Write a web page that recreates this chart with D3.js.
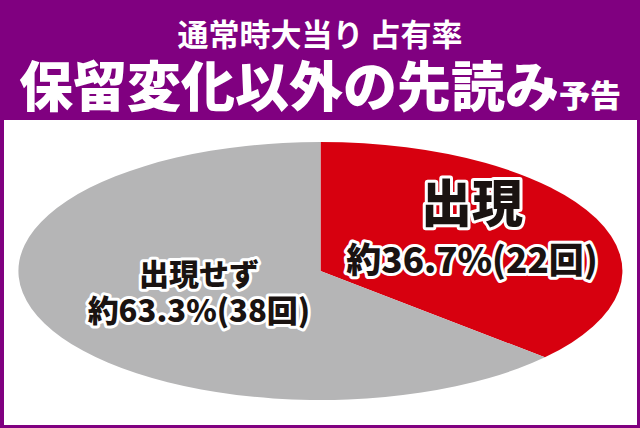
<!DOCTYPE html>
<html>
<head>
<meta charset="utf-8">
<script src="https://cdn.jsdelivr.net/npm/d3@7"></script>
<style>
    body { margin: 0; background: #800080; }
    svg { display: block; }
    text { font-family: "Noto Sans CJK JP", "Noto Sans", sans-serif; }
</style>
</head>
<body>
<script>
const categories = ["出現", "出現せず"];
const counts = [22, 38];
const percentLabels = ["約36.7%", "約63.3%"];
const countLabels = ["(22回)", "(38回)"];
const colors = ["#d7000f", "#b5b5b6"];

const largeur = 640,
    hauteur = 428;

const svgSpace = d3.select("body").append("svg")
    .attr("width", largeur)
    .attr("height", hauteur);

svgSpace.append("rect")
    .attr("width", largeur).attr("height", hauteur)
    .attr("fill", "#800080");

svgSpace.append("rect")
    .attr("x", 4).attr("y", 120)
    .attr("width", 633).attr("height", 305)
    .attr("fill", "white");

// titles
addText("通常時大当り\u2009占有率", largeur / 2, 46, "white", "31px", 700);

const title2 = svgSpace.append("text")
    .attr("x", largeur / 2)
    .attr("y", 107)
    .attr("fill", "white")
    .style("text-anchor", "middle")
    .style("font-weight", 900);
title2.append("tspan").text("保留変化以外の先読み").style("font-size", "54px");
title2.append("tspan").text("予告").style("font-size", "31px");

// pie squashed into an ellipse
const cx = 320.5, cy = 271, rx = 302, ry = 129;

const pie = d3.pie().sort(null).value((d) => d);
const arcs = pie(counts);
const arc = d3.arc().innerRadius(0).outerRadius(1);

const pieG = svgSpace.append("g")
    .attr("transform", `translate(${cx},${cy}) scale(${rx},${ry})`);

pieG.selectAll("path")
    .data(arcs)
    .enter()
    .append("path")
    .attr("d", arc)
    .attr("fill", (d, i) => colors[i]);

// labels
const labelArc = d3.arc().innerRadius(0.6).outerRadius(0.6);
const nudge = [[-14, -8], [44, -12]];
const bigSize = [51, 30];
const smallSize = [35, 31];
const lineOffset = [[-10, 41], [-5, 32]];

arcs.forEach((d, i) => {
    const c = labelArc.centroid(d);
    const x = cx + c[0] * rx + nudge[i][0];
    const y = cy + c[1] * ry + nudge[i][1];

    outlined(categories[i], x, y + lineOffset[i][0], bigSize[i]);
    outlined(percentLabels[i] + countLabels[i], x, y + lineOffset[i][1], smallSize[i]);
});

function outlined(txt, x, y, size) {
    return svgSpace.append("text")
        .text(txt)
        .attr("x", x)
        .attr("y", y)
        .attr("fill", "#1a1311")
        .attr("stroke", "white")
        .attr("stroke-width", 6)
        .attr("stroke-linejoin", "round")
        .attr("paint-order", "stroke")
        .style("text-anchor", "middle")
        .style("font-size", size + "px")
        .style("font-weight", 900);
}

function addText(txt, x, y, fill, fontSize, weight) {
    return svgSpace
        .append("text")
        .text(txt)
        .attr("fill", fill)
        .attr("x", x)
        .attr("y", y)
        .style("text-anchor", "middle")
        .style("font-size", fontSize)
        .style("font-weight", weight);
}
</script>
</body>
</html>
